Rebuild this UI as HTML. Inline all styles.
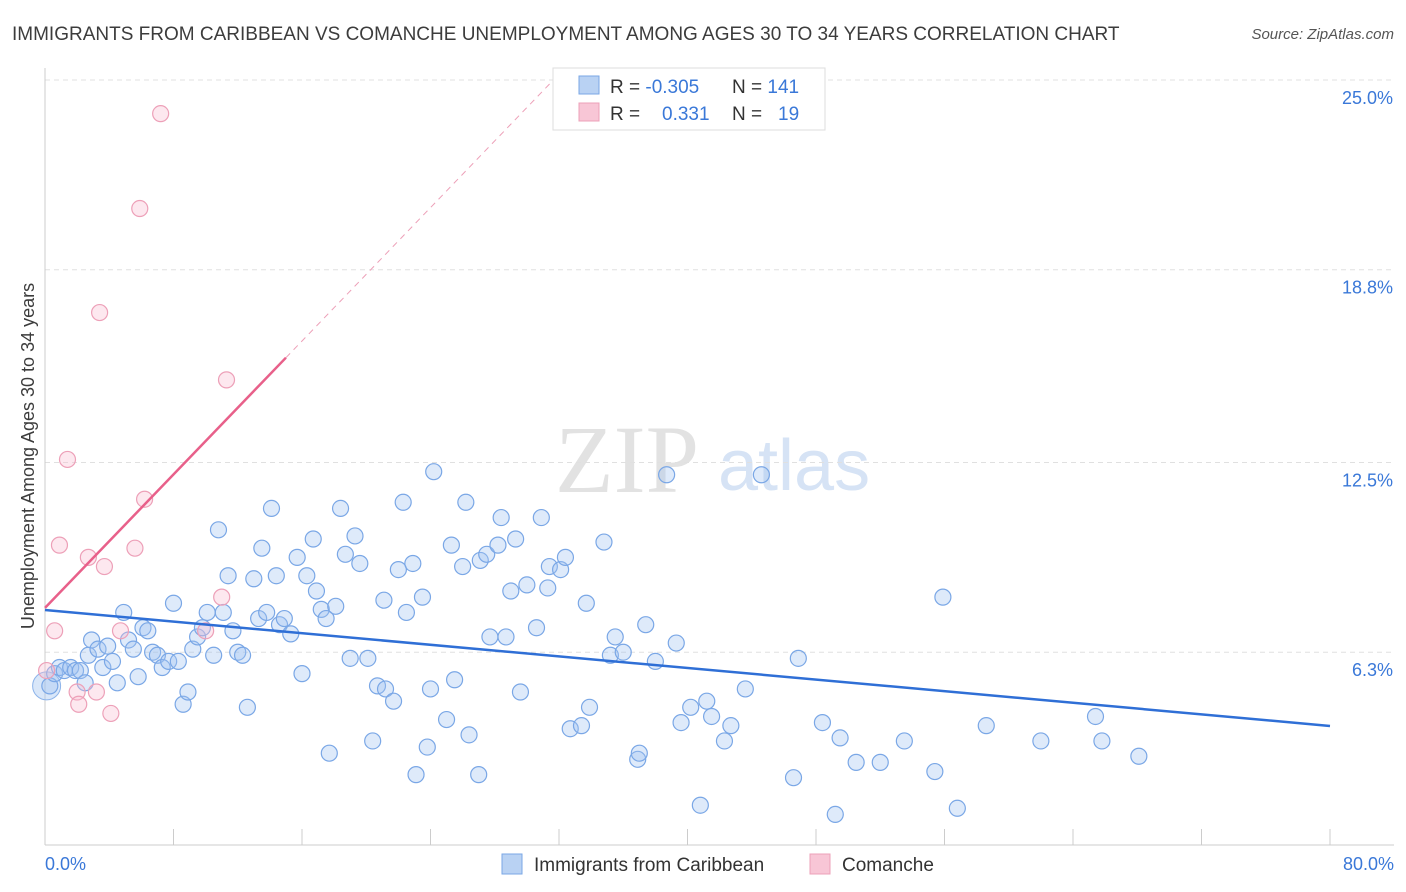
<!DOCTYPE html>
<html><head><meta charset="utf-8"><style>
body{margin:0;background:#fff;font-family:"Liberation Sans",sans-serif;}
#c{position:relative;width:1406px;height:892px;overflow:hidden}
</style></head><body>
<div id="c">
<svg id="s" width="1406" height="892" xmlns="http://www.w3.org/2000/svg">
<text x="12" y="40" font-size="19" fill="#3c3c3c">IMMIGRANTS FROM CARIBBEAN VS COMANCHE UNEMPLOYMENT AMONG AGES 30 TO 34 YEARS CORRELATION CHART</text>
<text x="1394" y="39" font-size="15" fill="#555" font-style="italic" text-anchor="end">Source: ZipAtlas.com</text>
<text x="0" y="0" transform="translate(34,456) rotate(-90)" font-size="18" fill="#3c3c3c" text-anchor="middle">Unemployment Among Ages 30 to 34 years</text>
<text x="555" y="492" font-size="96" fill="#e2e2e2" font-family="Liberation Serif,serif">ZIP</text>
<text x="718" y="490" font-size="72" fill="#d6e3f5">atlas</text>
<g id="grid"></g><g id="pts"></g><g id="lines"></g>
<rect x="553" y="68" width="272" height="62" fill="#fff" stroke="#ddd"/>
<rect x="579" y="76" width="20" height="18" fill="#b9d2f3" stroke="#7aa7e6"/>
<rect x="579" y="103" width="20" height="18" fill="#f8c6d6" stroke="#eda0b8"/>
<text x="610" y="93" font-size="19" fill="#333">R = <tspan fill="#3a78d8">-0.305</tspan><tspan x="732">N = </tspan><tspan fill="#3a78d8">141</tspan></text>
<text x="610" y="120" font-size="19" fill="#333">R = <tspan x="662" fill="#3a78d8">0.331</tspan><tspan x="732">N = </tspan><tspan x="778" fill="#3a78d8">19</tspan></text>
<rect x="502" y="854" width="20" height="20" fill="#b9d2f3" stroke="#7aa7e6"/>
<text x="534" y="871" font-size="19" fill="#333">Immigrants from Caribbean</text>
<rect x="810" y="854" width="20" height="20" fill="#f8c6d6" stroke="#eda0b8"/>
<text x="842" y="871" font-size="19" fill="#333">Comanche</text>
</svg></div>
<script>
const yTicks=[6.3,12.5,18.8,25.0];
const yTickLabels=["6.3%","12.5%","18.8%","25.0%"];
const xEndLabels=["0.0%","80.0%"];
const blueX=[0.3,0.6,0.9,1.2,1.6,1.9,2.2,2.5,2.7,2.9,3.3,3.6,3.9,4.2,4.5,4.9,5.2,5.5,5.8,6.1,6.4,6.7,7.0,7.3,7.7,8.0,8.3,8.6,8.9,9.2,9.5,9.8,10.1,10.5,10.8,11.1,11.4,11.7,12.0,12.3,12.6,13.0,13.3,13.5,13.8,14.1,14.4,14.6,14.9,15.3,15.7,16.0,16.3,16.7,16.9,17.2,17.5,17.7,18.1,18.4,18.7,19.0,19.3,19.6,20.1,20.4,20.7,21.1,21.2,21.7,22.0,22.3,22.5,22.9,23.1,23.5,23.8,24.0,24.2,25.0,25.3,25.5,26.0,26.2,26.4,27.0,27.1,27.5,27.7,28.2,28.4,28.7,29.0,29.3,29.6,30.0,30.6,30.9,31.3,31.4,32.1,32.4,32.7,33.4,33.7,33.9,34.8,35.2,35.5,36.0,36.9,37.0,37.4,38.0,38.7,39.3,39.6,40.2,40.8,41.2,41.5,42.3,42.7,43.6,44.6,46.6,46.9,48.4,49.2,49.5,50.5,52.0,53.5,55.4,55.9,56.8,58.6,62.0,65.4,65.8,68.1];
const blueY=[5.2,5.6,5.8,5.7,5.8,5.7,5.7,5.3,6.2,6.7,6.4,5.8,6.5,6.0,5.3,7.6,6.7,6.4,5.5,7.1,7.0,6.3,6.2,5.8,6.0,7.9,6.0,4.6,5.0,6.4,6.8,7.1,7.6,6.2,10.3,7.6,8.8,7.0,6.3,6.2,4.5,8.7,7.4,9.7,7.6,11.0,8.8,7.2,7.4,6.9,9.4,5.6,8.8,10.0,8.3,7.7,7.4,3.0,7.8,11.0,9.5,6.1,10.1,9.2,6.1,3.4,5.2,8.0,5.1,4.7,9.0,11.2,7.6,9.2,2.3,8.1,3.2,5.1,12.2,4.1,9.8,5.4,9.1,11.2,3.6,2.3,9.3,9.5,6.8,9.8,10.7,6.8,8.3,10.0,5.0,8.5,7.1,10.7,8.4,9.1,9.0,9.4,3.8,3.9,7.9,4.5,9.9,6.2,6.8,6.3,2.8,3.0,7.2,6.0,12.1,6.6,4.0,4.5,1.3,4.7,4.2,3.4,3.9,5.1,12.1,2.2,6.1,4.0,1.0,3.5,2.7,2.7,3.4,2.4,8.1,1.2,3.9,3.4,4.2,3.4,2.9];
const pinkX=[0.1,0.6,0.9,1.4,2.0,2.1,2.7,3.2,3.4,3.7,4.1,4.7,5.6,5.9,6.2,7.2,10.0,11.0,11.3];
const pinkY=[5.7,7.0,9.8,12.6,5.0,4.6,9.4,5.0,17.4,9.1,4.3,7.0,9.7,20.8,11.3,23.9,7.0,8.1,15.2];
const blueTrend=[7.68,3.89];   // at x=0 and x=80
const pinkTrend=[7.75,0.545];  // intercept, slope
const NS="http://www.w3.org/2000/svg";
const X=v=>45+v/80*1285, Y=v=>845-v*30.6;
function mk(t,a,p){const e=document.createElementNS(NS,t);for(const k in a)e.setAttribute(k,a[k]);p.appendChild(e);return e;}
const g=document.getElementById('grid'),s=document.getElementById('s');
yTicks.forEach((t,i)=>{
 const l=mk('line',{x1:45,x2:1394,y1:Y(t),y2:Y(t),stroke:'#e0e0e0','stroke-dasharray':'5,4'},g);
 
 
 const tx=mk('text',{x:1393,y:Y(t)+24,'font-size':18,fill:'#3a78d8','text-anchor':'end'},g);
 tx.textContent=yTickLabels[i];
 
 
});
const ax=mk('line',{x1:45,x2:1394,y1:845,y2:845,stroke:'#ccc'},g);


const ay=mk('line',{x1:45,x2:45,y1:68,y2:845,stroke:'#ccc'},g);


for(let i=0;i<=10;i++){const t=mk('line',{x1:X(i*8),x2:X(i*8),y1:829,y2:845,stroke:'#ccc'},g);
 
 }
[[0,'start',45],[80,'end',1394]].forEach((d,i)=>{const t=mk('text',{x:d[2],y:870,'font-size':18,fill:'#3a78d8','text-anchor':d[1]},g);
 t.textContent=xEndLabels[i];
 
 });
const p=document.getElementById('pts');
const big=mk('circle',{cx:X(0.1),cy:Y(5.2),r:14,fill:'rgba(160,195,240,0.4)',stroke:'#8db4ea'},p);


blueX.forEach((x,i)=>{const c=mk('circle',{cx:X(x),cy:Y(blueY[i]),r:8,fill:'rgba(160,195,240,0.35)',stroke:'#7aa7e6','stroke-width':1.2},p);
 
 });
pinkX.forEach((x,i)=>{const c=mk('circle',{cx:X(x),cy:Y(pinkY[i]),r:8,fill:'rgba(248,190,210,0.35)',stroke:'#eda0b8','stroke-width':1.2},p);
 
 });
const L=document.getElementById('lines');
const b=mk('line',{x1:X(0),y1:Y(blueTrend[0]),x2:X(80),y2:Y(blueTrend[1]),stroke:'#2f6fd6','stroke-width':2.5},L);


const pf=x=>pinkTrend[0]+pinkTrend[1]*x;
const ps=mk('line',{x1:X(0),y1:Y(pf(0)),x2:X(15),y2:Y(pf(15)),stroke:'#e8608a','stroke-width':2.5},L);


const pd=mk('line',{x1:X(15),y1:Y(pf(15)),x2:X(31.6),y2:Y(pf(31.6)),stroke:'#eda0b8','stroke-width':1,'stroke-dasharray':'6,5'},L);


</script>
</body></html>
